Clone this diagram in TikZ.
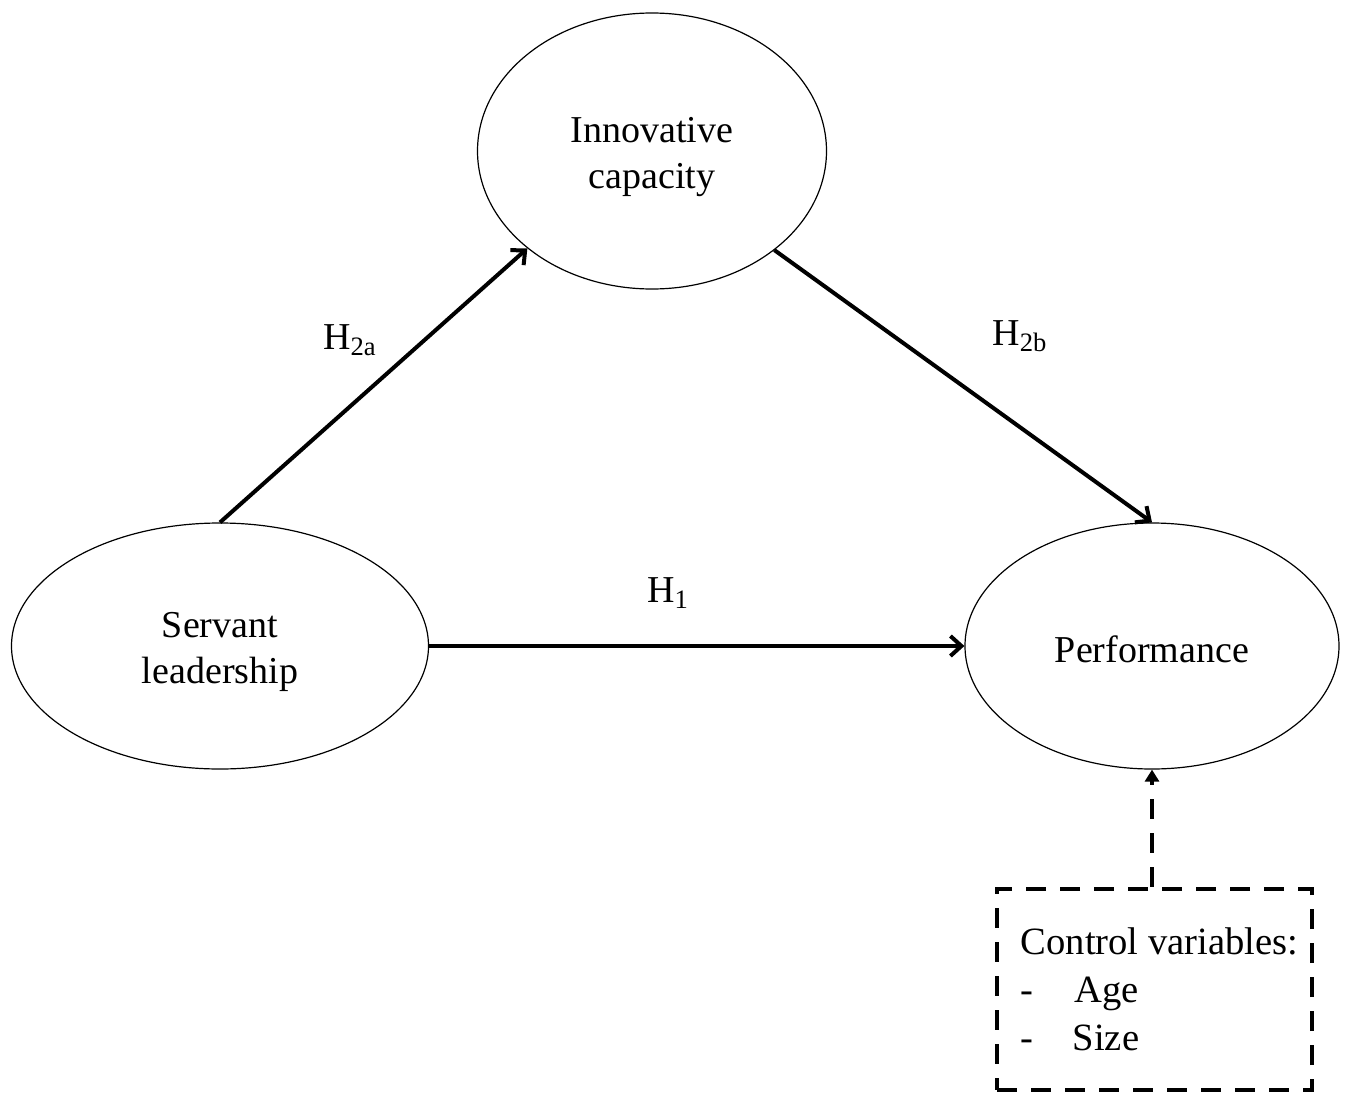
\documentclass[tikz,border=0pt]{standalone}
\usepackage{fontspec}
\setmainfont{Liberation Serif}
\usetikzlibrary{shapes.geometric,arrows.meta}
\newcommand{\ctrtext}[2]{\raisebox{-#1}[0pt][0pt]{\begin{tabular}{@{}c@{}}#2\end{tabular}}}
\tikzset{
  construct/.style={draw, ellipse, line width=0.6pt, inner sep=0pt, align=center,
    font=\fontsize{19}{23}\selectfont},
  path/.style={line width=2pt, -{Straight Barb[length=5.5pt,width=10pt]}},
  ctrlbox/.style={draw, line width=2.2pt, dash pattern=on 10pt off 7pt, inner sep=0pt,
    minimum width=157.5pt, minimum height=100.5pt, align=left,
    font=\fontsize{19.3}{24}\selectfont},
  ctrlarrow/.style={line width=2.2pt, dash pattern=on 10pt off 7pt, -{Triangle[length=6pt,width=7pt]}},
  hyp/.style={font=\fontsize{19}{23}\selectfont, inner sep=1pt}
}
\begin{document}
\begin{tikzpicture}[x=0.5pt,y=-0.5pt]
\useasboundingbox (0,0) rectangle (1350,1108);
\node[construct, minimum width=174.5pt, minimum height=138pt] (innov) at (652,151) {\ctrtext{7.15pt}{Innovative\\capacity}};
\node[construct, minimum width=208.5pt, minimum height=123pt] (serv) at (220,646) {\ctrtext{7.15pt}{Servant\\leadership}};
\node[construct, minimum width=187pt, minimum height=123pt] (perf) at (1152,646) {\ctrtext{8.15pt}{Performance}};
\node[ctrlbox] (ctrl) at (1154.5,989.5) {\hspace*{5pt}Control variables:\\\hspace*{5pt}\makebox[27pt][l]{-}Age\\\hspace*{5pt}\makebox[26pt][l]{-}Size};

\draw[path] (serv.north) -- (innov.218.6);
\draw[path] (innov.321.2) -- (perf.north);
\draw[path] (serv.east) -- (perf.west);
\draw[ctrlarrow] (ctrl.north -| perf.south) -- (perf.south);

\node[hyp] (h2a) at (350,340) {H\textsubscript{2a}};
\node[hyp] (h2b) at (1020,336) {H\textsubscript{2b}};
\node[hyp] (h1) at (668,593) {H\textsubscript{1}};
\end{tikzpicture}
\end{document}
